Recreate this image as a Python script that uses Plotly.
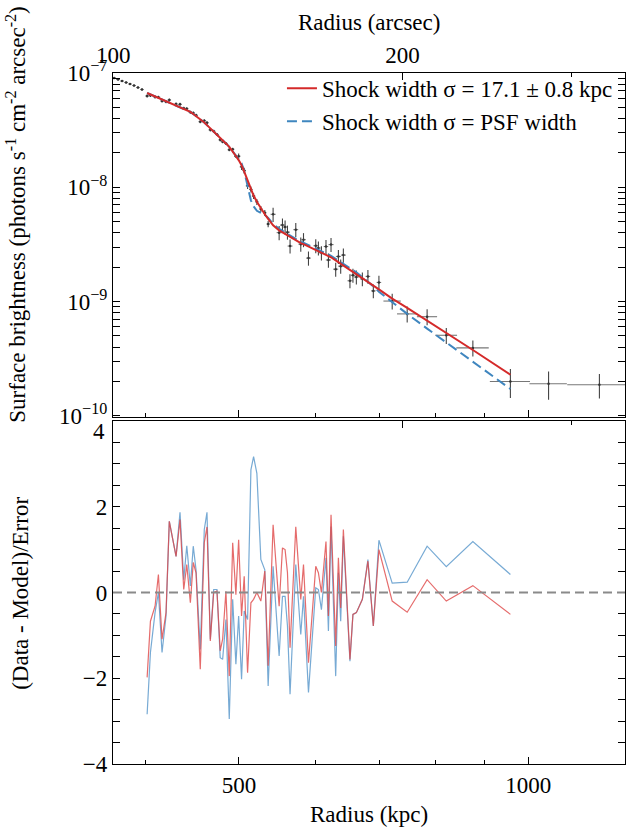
import math
import plotly.graph_objects as go

# ---------------- data ----------------
# inner profile points (outside the fit)
r_in_kpc = [370.8, 374.3, 377.9, 381.6, 385.2, 388.9, 392.6, 396.4]
sb_in = [9.04e-8, 8.77e-8, 8.51e-8, 8.26e-8, 8.01e-8, 7.77e-8, 7.46e-8, 7.17e-8]
sb_in_err = [1.5e-9, 1.5e-9, 1.5e-9, 1.5e-9, 1.4e-9, 1.4e-9, 1.4e-9, 1.3e-9]
r_in_xerr = [1.7, 1.7, 1.7, 1.7, 1.7, 1.7, 1.7, 1.7]

# fitted profile points
r_kpc = [401.3, 404.5, 409.0, 412.3, 415.9, 419.9, 423.2, 430.1, 434.2, 438.1,
         441.3, 445.1, 448.2, 451.2, 455.8, 460.2, 463.2, 466.9, 470.7, 474.4,
         478.1, 480.9, 484.7, 488.6, 492.6, 496.4, 499.7, 503.2, 506.4, 510.5,
         514.6, 517.9, 522.0, 527.0, 532.0, 536.3, 542.7, 550.6, 555.0, 558.5,
         561.7, 565.2, 573.0, 579.9, 583.7, 590.7, 601.1, 604.9, 609.3, 616.0,
         619.6, 623.5, 630.5, 634.6, 638.1, 642.2, 652.4, 657.1, 662.5, 672.1,
         681.1, 690.0, 699.3, 721.9, 748.3, 784.9, 821.8, 875.8, 958.2]
r_xerr = [1.8, 1.8, 1.8, 1.8, 1.8, 1.8, 1.8, 1.8, 1.8, 1.8,
          1.8, 1.8, 1.8, 2.0, 2.0, 2.0, 2.0, 2.0, 2.0, 2.0,
          2.0, 2.0, 2.0, 2.0, 2.0, 2.0, 2.2, 2.2, 2.2, 2.2,
          2.2, 2.2, 2.2, 2.2, 2.2, 2.2, 3.3, 3.3, 3.3, 3.3,
          3.3, 3.3, 3.3, 3.3, 3.3, 3.3, 3.3, 3.3, 3.3, 3.3,
          3.8, 3.8, 3.8, 3.8, 3.8, 3.8, 3.8, 3.8, 3.8, 3.8,
          3.8, 3.8, 3.8, 15.0, 18.0, 19.0, 21.5, 34.0, 46.0]
sb = [6.29e-8, 6.36e-8, 6.17e-8, 6.14e-8, 5.69e-8, 5.60e-8, 5.81e-8, 5.35e-8, 5.32e-8, 4.91e-8,
      4.87e-8, 4.53e-8, 4.47e-8, 4.27e-8, 3.75e-8, 3.82e-8, 3.67e-8, 3.18e-8, 3.09e-8, 2.90e-8,
      2.60e-8, 2.50e-8, 2.42e-8, 2.13e-8, 2.15e-8, 1.87e-8, 1.87e-8, 1.51e-8, 1.40e-8, 1.03e-8,
      9.58e-9, 8.39e-9, 7.46e-9, 6.46e-9, 5.98e-9, 4.77e-9, 5.80e-9, 4.01e-9, 4.67e-9, 4.49e-9,
      4.05e-9, 3.06e-9, 4.26e-9, 3.18e-9, 3.48e-9, 2.40e-9, 3.08e-9, 2.94e-9, 2.67e-9, 3.03e-9,
      2.31e-9, 3.15e-9, 1.92e-9, 2.48e-9, 2.04e-9, 2.55e-9, 1.52e-9, 1.70e-9, 1.64e-9, 1.58e-9,
      1.66e-9, 1.24e-9, 1.47e-9, 1.01e-9, 7.80e-10, 7.37e-10, 5.07e-10, 3.93e-10, 2.00e-10]
sb_err = [1.9e-9, 1.9e-9, 1.9e-9, 1.9e-9, 1.7e-9, 1.7e-9, 1.8e-9, 1.6e-9, 1.6e-9, 1.5e-9,
          1.5e-9, 1.4e-9, 1.4e-9, 1.3e-9, 1.1e-9, 1.2e-9, 1.1e-9, 9.6e-10, 9.4e-10, 8.8e-10,
          7.9e-10, 7.6e-10, 7.3e-10, 6.5e-10, 6.5e-10, 5.7e-10, 1.1e-9, 9.2e-10, 8.5e-10, 6.2e-10,
          5.8e-10, 5.1e-10, 4.5e-10, 3.9e-10, 3.6e-10, 2.9e-10, 8.2e-10, 5.7e-10, 6.6e-10, 6.3e-10,
          5.7e-10, 4.3e-10, 6.0e-10, 4.5e-10, 4.9e-10, 3.4e-10, 4.3e-10, 4.1e-10, 3.8e-10, 4.3e-10,
          3.3e-10, 4.4e-10, 2.7e-10, 3.5e-10, 2.9e-10, 3.6e-10, 2.1e-10, 2.4e-10, 2.3e-10, 2.2e-10,
          2.3e-10, 1.7e-10, 2.1e-10, 1.6e-10, 1.25e-10, 1.18e-10, 8.1e-11, 6.3e-11, 5.7e-11]

# outer profile points (outside the fit)
r_out_kpc = [1050.0, 1186.0]
r_out_xerr = [47.0, 88.0]
sb_out = [1.91e-10, 1.87e-10]
sb_out_err = [5.3e-11, 4.5e-11]

# models
model_fit = [6.68e-8, 6.49e-8, 6.23e-8, 6.06e-8, 5.88e-8, 5.68e-8, 5.52e-8, 5.22e-8, 5.05e-8, 4.90e-8,
             4.77e-8, 4.57e-8, 4.38e-8, 4.21e-8, 3.96e-8, 3.69e-8, 3.50e-8, 3.29e-8, 3.09e-8, 2.90e-8,
             2.71e-8, 2.58e-8, 2.42e-8, 2.26e-8, 2.07e-8, 1.88e-8, 1.73e-8, 1.56e-8, 1.37e-8, 1.15e-8,
             9.72e-9, 8.47e-9, 7.46e-9, 6.54e-9, 5.80e-9, 5.29e-9, 4.64e-9, 4.20e-9, 4.03e-9, 3.90e-9,
             3.79e-9, 3.67e-9, 3.43e-9, 3.25e-9, 3.18e-9, 3.02e-9, 2.82e-9, 2.75e-9, 2.67e-9, 2.56e-9,
             2.50e-9, 2.44e-9, 2.29e-9, 2.21e-9, 2.15e-9, 2.07e-9, 1.90e-9, 1.83e-9, 1.75e-9, 1.62e-9,
             1.50e-9, 1.38e-9, 1.28e-9, 1.06e-9, 8.81e-10, 6.81e-10, 5.35e-10, 3.77e-10, 2.29e-10]
model_psf = [6.68e-8, 6.49e-8, 6.23e-8, 6.06e-8, 5.88e-8, 5.68e-8, 5.52e-8, 5.22e-8, 5.05e-8, 4.90e-8,
             4.77e-8, 4.57e-8, 4.38e-8, 4.21e-8, 3.96e-8, 3.69e-8, 3.50e-8, 3.29e-8, 3.09e-8, 2.90e-8,
             2.71e-8, 2.58e-8, 2.42e-8, 2.26e-8, 2.07e-8, 1.91e-8, 1.78e-8, 1.62e-8, 1.38e-8, 1.02e-8,
             7.69e-9, 6.81e-9, 6.22e-9, 5.97e-9, 5.74e-9, 5.40e-9, 4.78e-9, 4.33e-9, 4.15e-9, 4.02e-9,
             3.91e-9, 3.78e-9, 3.53e-9, 3.35e-9, 3.27e-9, 3.12e-9, 2.91e-9, 2.84e-9, 2.76e-9, 2.64e-9,
             2.58e-9, 2.51e-9, 2.36e-9, 2.28e-9, 2.21e-9, 2.14e-9, 1.96e-9, 1.89e-9, 1.80e-9, 1.63e-9,
             1.50e-9, 1.36e-9, 1.22e-9, 9.80e-10, 7.80e-10, 5.80e-10, 4.37e-10, 2.96e-10, 1.72e-10]

# residuals (Data - Model)/Error
resid_fit = [-1.98, -0.67, -0.32, 0.42, -1.09, -0.47, 1.66, 0.84, 1.70, 0.07,
             0.65, -0.24, 0.70, 0.46, -1.79, 1.16, 1.53, -1.13, 0.00, 0.03,
             -1.36, -1.09, 0.03, -1.95, 1.16, -0.05, 1.23, -0.55, 0.38, -1.87,
             -0.24, -0.16, 0.00, -0.20, 0.50, -1.71, 1.58, -0.32, 1.04, 1.00,
             0.46, -1.29, 1.53, -0.16, 0.65, -1.64, 0.61, 0.46, 0.00, 1.19,
             -0.55, 1.81, -1.25, 0.81, -0.36, 1.47, -1.56, -0.51, -0.47, -0.16,
             0.73, -0.78, 1.00, -0.20, -0.46, 0.30, -0.20, 0.16, -0.51]
resid_psf = [-2.84, -1.40, -0.47, 0.00, -1.40, -0.55, 1.66, 0.84, 1.87, 0.30,
             1.09, 0.15, 1.08, 0.53, -1.33, 1.47, 1.87, -1.09, 0.07, 0.07,
             -1.52, -1.56, -0.63, -2.95, -0.16, -1.67, -0.55, -2.02, -0.43, -0.63,
             2.86, 3.17, 2.78, 0.77, 0.53, -2.18, 0.61, -1.48, -0.09, -0.09,
             -0.78, -2.37, 0.65, -0.98, -0.09, -2.33, 0.11, 0.07, -0.40, 0.81,
             -0.90, 1.54, -1.95, 0.46, -0.67, 1.31, -1.60, -0.51, -0.47, -0.16,
             0.77, -0.78, 1.22, 0.22, 0.24, 1.08, 0.60, 1.19, 0.42]

label_fit = "Shock width σ = 17.1 ± 0.8 kpc"
label_psf = "Shock width σ = PSF width"

# axis settings
KPC_PER_ARCSEC = 3.7
kpc_range = [369.8, 1261.0]
sb_log_range = [-10.01, -7.0]
resid_range = [-4, 4]
zero_level = 0

sb_ticks = [1e-10, 1e-9, 1e-8, 1e-7]
sb_ticktext = ["10<sup>−10</sup>", "10<sup>−9</sup>", "10<sup>−8</sup>", "10<sup>−7</sup>"]
sb_minor = [m * 10.0 ** e for e in (-10, -9, -8) for m in range(2, 10)]
kpc_ticks = [500, 1000]
kpc_ticktext = ["500", "1000"]
kpc_minor = [400, 600, 700, 800, 900]
arcsec_ticks = [100, 200]
arcsec_ticktext = ["100", "200"]
arcsec_minor = [300]
resid_ticks = [-4, -2, 0, 2, 4]
resid_ticktext = ["−4", "−2", "0", "2", ""]   # top "4" drawn lower, as in the original
resid_top_label = "4"
resid_minor = [-3.5, -3, -2.5, -1.5, -1, -0.5, 0.5, 1, 1.5, 2.5, 3, 3.5]

kpc_log = [math.log10(v) for v in kpc_range]
arcsec_range = [v / KPC_PER_ARCSEC for v in kpc_range]
arcsec_log = [math.log10(v) for v in arcsec_range]

RED = "#d42a2a"
BLUE = "#3f86bf"
RED_RES = "rgba(222,70,70,0.8)"
BLUE_RES = "rgba(95,155,205,0.85)"
FONT = "'Liberation Serif', 'Times New Roman', Times, serif"
FS = 23

fig = go.Figure()

# --- top panel ---
for xs, ys, ye, xe in [(r_in_kpc, sb_in, sb_in_err, r_in_xerr),
                       (r_kpc, sb, sb_err, r_xerr),
                       (r_out_kpc, sb_out, sb_out_err, r_out_xerr)]:
    fig.add_trace(go.Scatter(
        x=xs, y=ys, mode="markers", xaxis="x", yaxis="y",
        marker=dict(size=2.5, color="#333333"), showlegend=False, hoverinfo="skip",
        error_y=dict(type="data", array=ye, color="#444444", thickness=1.1, width=0),
        error_x=dict(type="data", array=xe, color="#777777", thickness=1.1, width=0)))
fig.add_trace(go.Scatter(
    x=r_kpc, y=model_psf, mode="lines", xaxis="x", yaxis="y", name=label_psf,
    legendrank=2, line=dict(color=BLUE, width=2, dash="10px,5px")))
fig.add_trace(go.Scatter(
    x=r_kpc, y=model_fit, mode="lines", xaxis="x", yaxis="y", name=label_fit,
    legendrank=1, line=dict(color=RED, width=2)))

# invisible anchors so that the arcsec axes get drawn
fig.add_trace(go.Scatter(x=arcsec_range, y=[sb_ticks[1], sb_ticks[1]], mode="markers",
                         xaxis="x3", yaxis="y", marker=dict(opacity=0),
                         showlegend=False, hoverinfo="skip"))
fig.add_trace(go.Scatter(x=arcsec_range, y=[zero_level, zero_level], mode="markers",
                         xaxis="x4", yaxis="y2", marker=dict(opacity=0),
                         showlegend=False, hoverinfo="skip"))

# --- bottom panel ---
fig.add_trace(go.Scatter(
    x=r_kpc, y=resid_psf, mode="lines", xaxis="x2", yaxis="y2", showlegend=False,
    line=dict(color=BLUE_RES, width=1.2)))
fig.add_trace(go.Scatter(
    x=r_kpc, y=resid_fit, mode="lines", xaxis="x2", yaxis="y2", showlegend=False,
    line=dict(color=RED_RES, width=1.2)))

fig.add_shape(type="line", xref="x2 domain", yref="y2", x0=0, x1=1,
              y0=zero_level, y1=zero_level, layer="above",
              line=dict(color="#8a8a8a", width=2, dash="9px,5px"))

ax = dict(showline=True, linecolor="black", linewidth=1.3, ticks="inside",
          tickcolor="black", ticklen=7, tickwidth=1.1, showgrid=False,
          zeroline=False, automargin=False,
          tickfont=dict(size=FS, family=FONT, color="black"))
minor_ax = dict(ticks="inside", ticklen=4, tickwidth=1, tickcolor="black", showgrid=False)

fig.update_layout(
    width=626, height=830,
    margin=dict(l=113, r=1, t=73, b=66),
    paper_bgcolor="white", plot_bgcolor="white",
    font=dict(family=FONT, size=FS, color="black"),
    xaxis=dict(**ax, type="log", range=kpc_log, domain=[0, 1], anchor="y",
               tickmode="array", tickvals=kpc_ticks, showticklabels=False,
               minor=dict(**minor_ax, tickmode="array", tickvals=kpc_minor)),
    xaxis2=dict(**ax, type="log", range=kpc_log, domain=[0, 1], anchor="y2",
                tickmode="array", tickvals=kpc_ticks, ticktext=kpc_ticktext,
                minor=dict(**minor_ax, tickmode="array", tickvals=kpc_minor)),
    xaxis3=dict(**ax, type="log", range=arcsec_log, overlaying="x", anchor="y",
                side="top", tickmode="array", tickvals=arcsec_ticks,
                ticktext=arcsec_ticktext,
                minor=dict(**minor_ax, tickmode="array", tickvals=arcsec_minor)),
    xaxis4=dict(**ax, type="log", range=arcsec_log, overlaying="x2", anchor="y2",
                side="top", tickmode="array", tickvals=arcsec_ticks,
                showticklabels=False,
                minor=dict(**minor_ax, tickmode="array", tickvals=arcsec_minor)),
    yaxis=dict(**ax, type="log", range=sb_log_range, domain=[0.5022, 1], anchor="x",
               tickmode="array", tickvals=sb_ticks, ticktext=sb_ticktext,
               mirror="allticks",
               minor=dict(**minor_ax, tickmode="array", tickvals=sb_minor)),
    yaxis2=dict(**ax, range=resid_range, domain=[0, 0.4964], anchor="x2",
                tickmode="array", tickvals=resid_ticks, ticktext=resid_ticktext,
                mirror="allticks",
                minor=dict(**minor_ax, tickmode="array", tickvals=resid_minor)),
    legend=dict(x=0.33, y=1.009, xanchor="left", yanchor="top",
                bgcolor="rgba(0,0,0,0)", borderwidth=0,
                font=dict(size=FS, family=FONT, color="black"),
                tracegroupgap=0),
    annotations=[
        dict(text="Radius (kpc)", xref="paper", yref="paper", x=0.5, y=-0.0738,
             showarrow=False, xanchor="center", yanchor="middle",
             font=dict(size=FS, family=FONT)),
        dict(text="Radius (arcsec)", xref="paper", yref="paper", x=0.5, y=1.0738,
             showarrow=False, xanchor="center", yanchor="middle",
             font=dict(size=FS, family=FONT)),
        dict(text="Surface brightness (photons s<sup>-1</sup> cm<sup>-2</sup> arcsec<sup>-2</sup>)",
             xref="paper", yref="paper", x=-0.19, y=0.7945, textangle=-90,
             showarrow=False, xanchor="center", yanchor="middle",
             font=dict(size=FS, family=FONT)),
        dict(text="(Data - Model)/Error", xref="paper", yref="paper", x=-0.18, y=0.2475,
             textangle=-90, showarrow=False, xanchor="center", yanchor="middle",
             font=dict(size=FS, family=FONT)),
        dict(text=resid_top_label, xref="paper", yref="paper", x=-0.012, y=0.4805,
             showarrow=False, xanchor="right", yanchor="middle",
             font=dict(size=FS, family=FONT)),
    ],
)

fig.write_html("out.html")
